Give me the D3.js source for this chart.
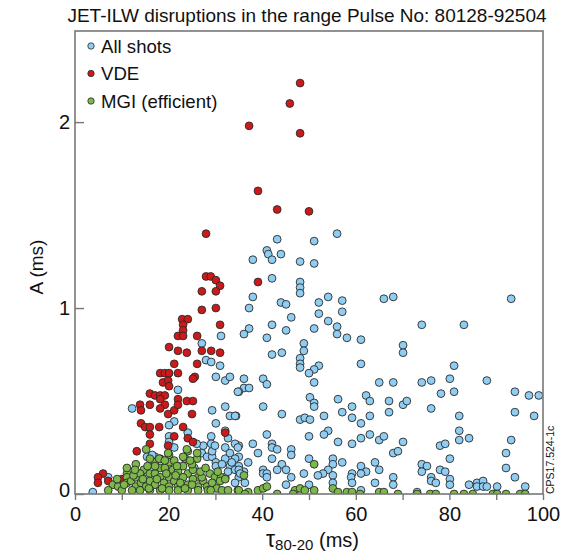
<!DOCTYPE html>
<html><head><meta charset="utf-8">
<script src="https://cdn.jsdelivr.net/npm/d3@7"></script>
<style>
html,body{margin:0;padding:0;background:#fff;}
text{font-family:"Liberation Sans",Arial,sans-serif;fill:#111;}
</style></head>
<body><svg id="c" width="569" height="554"></svg>
<script>
const titleText = "JET-ILW disruptions in the range Pulse No: 80128-92504";
const xTicks = [0,10,20,30,40,50,60,70,80,90,100];
const xTickLabels = [0,20,40,60,80,100];
const yTicks = [0,1,2];
const legendLabels = ["All shots","VDE","MGI (efficient)"];

// All shots [tau80-20 (ms), A (ms)]
const allShots = [
[43.2,1.37],[51.1,1.36],[56.0,1.40],[41.0,1.31],[41.3,1.29],[44.0,1.29],[38.0,1.26],[42.1,1.26],[48.1,1.25],[51.1,1.24],
[42.1,1.16],[48.1,1.14],[48.1,1.11],[48.1,1.08],[38.0,1.06],[37.2,1.00],[44.0,1.03],[45.1,1.02],[46.2,0.95],[52.1,1.03],
[54.1,1.06],[57.1,1.04],[52.1,0.97],[57.1,0.98],[54.1,0.93],[42.1,0.91],[37.2,0.89],[36.1,0.86],[45.1,0.88],[51.1,0.89],
[56.0,0.90],[56.0,0.86],[41.0,0.84],[58.1,0.84],[61.1,0.83],[48.9,0.81],[48.9,0.77],[42.1,0.75],[44.2,0.76],[48.1,0.73],
[48.1,0.70],[48.1,0.68],[52.1,0.69],[51.1,0.67],[50.0,0.65],[51.1,0.60],[61.1,0.70],[36.1,0.62],[40.2,0.62],[41.0,0.59],
[36.1,0.57],[37.2,0.57],[35.0,0.55],[65.0,0.60],[68.0,0.60],[50.2,0.52],[51.1,0.49],[51.1,0.47],[56.2,0.51],[62.2,0.53],
[63.0,0.50],[67.1,0.50],[59.2,0.47],[40.2,0.47],[57.1,0.44],[67.1,0.44],[44.2,0.43],[34.4,0.42],[48.1,0.40],[49.1,0.41],
[50.2,0.40],[53.2,0.42],[59.2,0.41],[61.1,0.38],[63.0,0.42],[54.1,0.34],[53.2,0.32],[50.0,0.31],[41.0,0.32],[56.2,0.28],
[59.2,0.27],[61.1,0.30],[63.0,0.32],[65.0,0.29],[66.0,0.31],[35.0,0.26],[38.0,0.27],[42.1,0.27],[42.1,0.25],[43.2,0.24],
[46.2,0.24],[46.2,0.21],[35.0,0.20],[39.1,0.22],[50.0,0.19],[55.1,0.19],[57.1,0.17],[37.0,0.17],[42.1,0.19],[44.2,0.16],
[43.2,0.13],[45.1,0.13],[46.2,0.09],[55.1,0.16],[54.1,0.13],[53.0,0.11],[51.9,0.10],[48.9,0.11],[55.1,0.10],[59.2,0.11],
[59.0,0.09],[61.1,0.15],[62.2,0.12],[61.1,0.11],[64.1,0.17],[65.0,0.13],[68.0,0.09],[64.1,0.06],[61.1,0.02],[59.2,0.06],
[55.1,0.06],[50.0,0.05],[45.1,0.05],[35.0,0.15],[36.1,0.12],[35.0,0.09],[40.2,0.13],[40.2,0.11],[41.0,0.11],[41.0,0.09],
[70.1,0.80],[70.1,0.76],[81.0,0.69],[74.1,0.60],[76.1,0.61],[80.1,0.62],[88.0,0.61],[78.2,0.54],[81.0,0.55],[94.0,0.55],
[97.0,0.53],[99.1,0.53],[70.1,0.48],[70.9,0.50],[76.1,0.46],[82.1,0.42],[94.0,0.44],[98.1,0.42],[82.1,0.34],[82.1,0.29],
[84.2,0.30],[70.1,0.28],[78.0,0.26],[79.1,0.27],[93.2,0.29],[68.0,0.22],[69.0,0.23],[92.1,0.22],[80.1,0.19],[74.1,0.16],
[75.2,0.15],[74.1,0.12],[78.0,0.13],[79.1,0.12],[92.1,0.14],[68.0,0.05],[76.1,0.09],[76.1,0.07],[77.1,0.06],
[80.1,0.08],[80.1,0.05],[84.2,0.05],[85.9,0.06],[85.9,0.04],[87.2,0.07],[87.2,0.04],[88.0,0.04],[90.2,0.04],[94.0,0.09],
[96.2,0.04],[73.1,0.01],
[66.0,1.05],[68.0,1.06],[74.1,0.91],[83.1,0.91],[93.2,1.05],
[31.2,0.85],[27.1,0.81],[28.0,0.72],[29.1,0.71],[31.0,0.69],[30.1,0.63],[32.1,0.61],[33.1,0.63],[34.8,0.55],[22.0,0.56],
[12.2,0.46],[29.3,0.45],[32.1,0.47],[33.1,0.42],[34.2,0.42],[30.1,0.38],[32.1,0.34],[32.7,0.30],[29.1,0.31],[29.1,0.27],
[21.2,0.39],[20.1,0.31],[20.1,0.28],[21.2,0.25],[17.1,0.20],[18.2,0.19],[27.1,0.22],[28.2,0.20],[29.3,0.20],[29.3,0.23],
[30.1,0.17],[30.1,0.15],[32.1,0.25],[32.1,0.19],[33.1,0.22],[34.2,0.27],[34.2,0.19],[33.1,0.15],[34.2,0.13],[35.0,0.13],
[34.2,0.06],[32.1,0.09],[3.8,0.01],[7.1,0.09],[14.3,0.09],[15.4,0.20],[24.1,0.33],[20.1,0.37],
[27.4,0.26],[29.9,0.26],[34.8,0.25],[33.5,0.17],[31.4,0.16],[32.7,0.12],[35.3,0.11],[36.3,0.06],[16.5,0.21],[22.0,0.15],
[26.0,0.27],[25.5,0.14]
];

const vde = [
[48.1,2.21],[45.9,2.10],[37.2,1.98],[48.1,1.94],[39.1,1.63],[43.2,1.53],[50.0,1.52],[39.1,1.14],[28.0,1.40],[28.0,1.17],
[29.0,1.17],[30.1,1.15],[31.0,1.12],[27.1,1.09],[30.1,1.09],[27.1,0.99],[30.1,1.00],[22.9,0.94],[24.1,0.94],[23.1,0.91],
[31.0,0.91],[23.1,0.88],[22.0,0.85],[23.1,0.85],[26.1,0.85],[20.1,0.79],[22.0,0.77],[23.9,0.76],[27.1,0.77],[29.1,0.77],
[31.0,0.76],[26.1,0.70],[21.2,0.70],[18.2,0.65],[19.2,0.65],[20.1,0.65],[22.0,0.65],[18.8,0.60],[19.9,0.61],[20.1,0.58],
[25.6,0.63],[25.2,0.62],[16.0,0.54],[17.1,0.53],[18.2,0.53],[19.2,0.53],[18.2,0.51],[22.0,0.51],[13.9,0.48],[16.0,0.48],
[19.2,0.48],[18.2,0.46],[23.9,0.50],[25.2,0.50],[14.1,0.45],[19.9,0.43],[21.2,0.45],[22.0,0.48],[25.0,0.43],[14.1,0.38],
[15.0,0.36],[16.0,0.36],[18.0,0.36],[23.1,0.36],[32.1,0.33],[16.0,0.32],[21.2,0.31],[24.1,0.30],[25.2,0.28],[16.0,0.27],
[19.9,0.26],[13.2,0.23],[6.0,0.11],[4.9,0.09],[4.9,0.06],[7.1,0.07],[10.0,0.08]
];

const mgi = [
[15.2,0.24],[20.1,0.21],[24.1,0.23],[13.0,0.16],[17.1,0.17],[18.2,0.14],[20.1,0.17],[19.2,0.14],[23.1,0.15],[11.1,0.11],
[11.1,0.09],[14.7,0.13],[16.0,0.11],[17.1,0.11],[20.9,0.13],[22.0,0.12],[24.1,0.11],[25.2,0.13],[26.3,0.09],[28.8,0.11],
[29.9,0.09],[31.2,0.09],[31.0,0.07],[8.1,0.05],[7.1,0.02],[9.2,0.04],[11.1,0.06],[12.0,0.07],[13.0,0.09],[13.0,0.04],
[14.1,0.06],[15.2,0.04],[16.0,0.07],[17.1,0.05],[18.2,0.09],[19.0,0.06],[20.1,0.04],[20.1,0.09],[21.2,0.07],[22.0,0.04],
[23.1,0.09],[24.1,0.05],[25.2,0.08],[26.3,0.04],[27.4,0.07],[28.2,0.04],[29.3,0.06],[30.3,0.03],[31.4,0.02],[32.7,0.02],
[34.8,0.02],[10.0,0.02],[12.2,0.02],[13.9,0.02],[16.0,0.02],[18.2,0.02],[20.1,0.02],[22.0,0.02],[24.1,0.02],[26.3,0.02],
[28.4,0.02],[23.5,0.19],[26.1,0.19],[18.0,0.19],[21.2,0.18],[16.0,0.19],[13.9,0.11],[23.9,0.24],[19.9,0.22],[23.1,0.20],
[26.1,0.22],[19.2,0.18],[17.1,0.15],[25.0,0.16],[27.1,0.09],[32.1,0.08],[11.1,0.14],[9.0,0.08],
[10.5,0.05],[12.5,0.10],[14.5,0.08],[15.5,0.15],[17.5,0.08],[19.5,0.11],[21.5,0.10],[22.5,0.06],[23.5,0.03],[25.0,0.05],
[26.8,0.12],[27.9,0.14],[29.0,0.02],[30.5,0.12],[21.8,0.15],[24.6,0.18],[18.6,0.03],[15.8,0.03],[12.8,0.13],
[35.0,0.02],[36.1,0.10],[37.0,0.01],[39.1,0.02],[40.2,0.03],[41.0,0.04],[43.2,0.00],[47.0,0.02],[48.1,0.03],[49.1,0.02],
[51.1,0.02],[51.1,0.16],[55.1,0.03],[56.2,0.01],[58.1,0.01],[59.2,0.01],[60.9,0.00],[65.0,0.01],[66.0,0.01],[69.0,0.00],
[73.1,0.00],[75.9,0.00],[77.1,0.00],[81.0,0.00],[83.1,0.00],[85.0,0.00],[89.3,0.00],[90.2,0.00],[92.1,0.00],[95.1,0.00],
[96.2,0.00],[46.6,0.00],[36.3,0.00]
];

const colors = {all:"#8fcdf2", vde:"#cc1a1a", mgi:"#7cb84a"};

const svg = d3.select("#c");
const L=75,R=543,T=31,B=494;
const x = d3.scaleLinear().domain([0,100]).range([L,R]);
const y = d3.scaleLinear().domain([0,2.49]).range([B,T]);

svg.append("defs").append("clipPath").attr("id","clip")
  .append("rect").attr("x",L).attr("y",T).attr("width",R-L).attr("height",B-T);

const g = svg.append("g").attr("clip-path","url(#clip)");
function draw(data, col){
  g.append("g").selectAll("circle").data(data).join("circle")
    .attr("cx",d=>x(d[0])).attr("cy",d=>y(d[1])).attr("r",3.9)
    .attr("fill",col).attr("stroke","#2a2a2a").attr("stroke-width",0.9);
}
draw(allShots, colors.all);
draw(vde, colors.vde);
draw(mgi, colors.mgi);

// frame
svg.append("rect").attr("x",L).attr("y",T).attr("width",R-L).attr("height",B-T)
  .attr("fill","none").attr("stroke","#777").attr("stroke-width",1.6);

// x axis
const xa = svg.append("g").attr("transform",`translate(0,${B})`)
  .call(d3.axisBottom(x).tickValues(xTicks).tickSize(6).tickFormat(d=>xTickLabels.includes(d)?d:""));
xa.select(".domain").remove();
xa.selectAll("line").attr("stroke","#777").attr("stroke-width",1.4);
xa.selectAll("text").attr("font-size",20).attr("fill","#111").attr("dy",0).attr("y",27)
  .style("font-family","'Liberation Sans',Arial,sans-serif");

// y axis (ticks inward)
const ya = svg.append("g").attr("transform",`translate(${L},0)`)
  .call(d3.axisLeft(y).tickValues(yTicks).tickSize(-9).tickPadding(14).tickFormat(d3.format("d")));
ya.select(".domain").remove();
ya.selectAll("line").attr("stroke","#777").attr("stroke-width",1.4);
ya.selectAll("text").attr("font-size",20).attr("fill","#111").attr("x",-5)
  .style("font-family","'Liberation Sans',Arial,sans-serif");
ya.selectAll(".tick").filter(d=>d===0).select("text").attr("dy","0.1em");

// title
svg.append("text").attr("x",307).attr("y",22).attr("text-anchor","middle")
  .attr("font-size",19).text(titleText);

// legend
const leg = svg.append("g");
const legCols=[colors.all,colors.vde,colors.mgi];
legendLabels.forEach((t,i)=>{
  const cy = 46 + i*27.5;
  leg.append("circle").attr("cx",91).attr("cy",cy).attr("r",3.2)
    .attr("fill",legCols[i]).attr("stroke","#2a2a2a").attr("stroke-width",0.8);
  leg.append("text").attr("x",101).attr("y",cy+6.5).attr("font-size",18.6).text(t);
});

// axis labels
const xl = svg.append("text").attr("x",266).attr("y",546.5);
xl.append("tspan").attr("font-size",23).text("τ");
xl.append("tspan").attr("font-size",15).attr("dy",3.5).text("80-20");
xl.append("tspan").attr("font-size",20).attr("dy",-3.5).text(" (ms)");

svg.append("text").attr("transform","translate(43,267) rotate(-90)")
  .attr("text-anchor","middle").attr("font-size",19).text("A (ms)");

svg.append("text").attr("transform","translate(554,494) rotate(-90)")
  .attr("text-anchor","start").attr("font-size",10.5).text("CPS17.524-1c");
</script></body></html>
